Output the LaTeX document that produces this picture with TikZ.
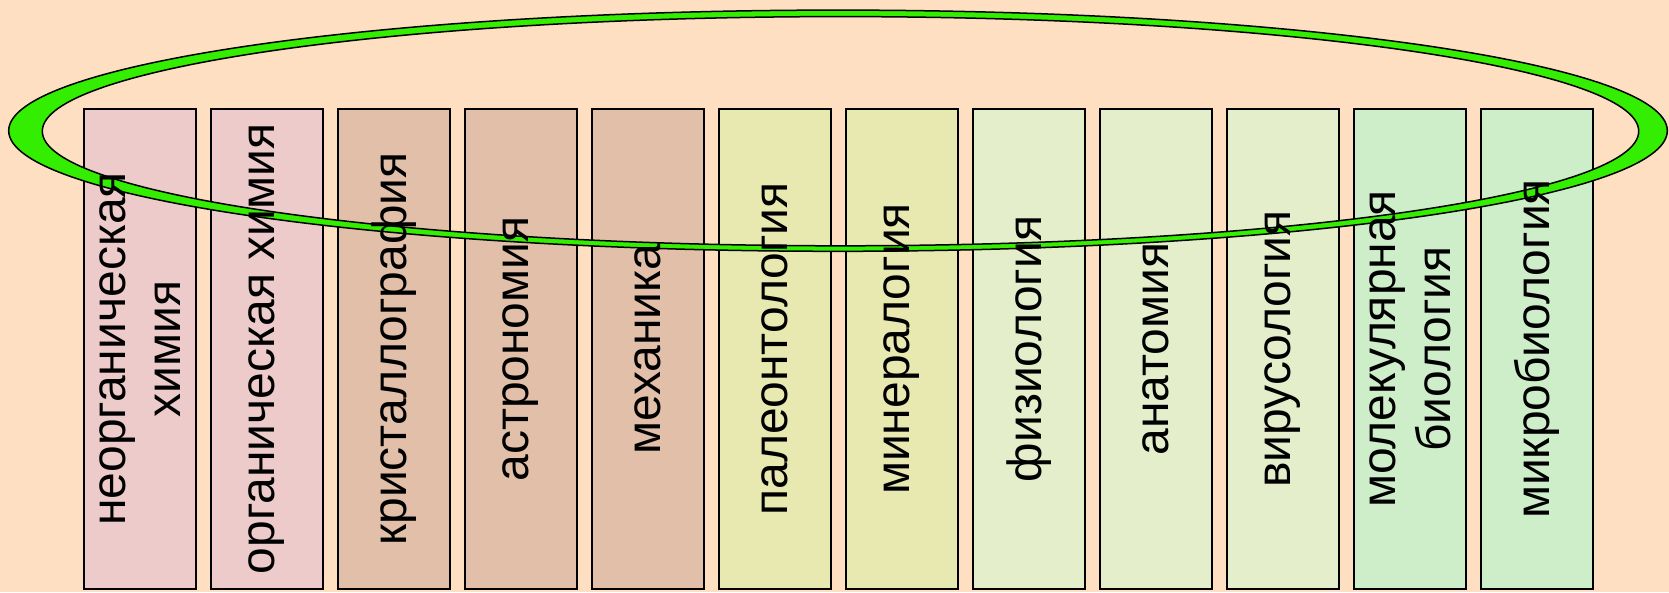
\documentclass[tikz,border=0pt]{standalone}
\usepackage{fontspec}
\setmainfont{Liberation Sans}
\definecolor{bgpeach}{HTML}{FFDFC1}
\definecolor{cpink}{HTML}{EDCBCA}
\definecolor{ctan}{HTML}{E1BFA8}
\definecolor{cyel}{HTML}{E8E8B1}
\definecolor{clgr}{HTML}{E4EECA}
\definecolor{cgrn}{HTML}{CEEECA}
\definecolor{ringgreen}{HTML}{33EE00}
\tikzset{
  boxstyle/.style={draw=black, line width=1.4pt, rectangle, minimum width=112pt, minimum height=480pt, inner sep=0pt},
  labelstyle/.style={rotate=90, align=center, inner sep=0pt, font=\fontsize{48}{55}\selectfont},
}
\begin{document}
\begin{tikzpicture}[x=1pt,y=-1pt]
\fill[bgpeach] (0,0) rectangle (1669,592);
\useasboundingbox (0,0) rectangle (1669,592);
% boxes
\node[boxstyle, fill=cpink] (b1) at (140,349) {};
\node[boxstyle, fill=cpink] (b2) at (267,349) {};
\node[boxstyle, fill=ctan] (b3) at (394,349) {};
\node[boxstyle, fill=ctan] (b4) at (521,349) {};
\node[boxstyle, fill=ctan] (b5) at (648,349) {};
\node[boxstyle, fill=cyel] (b6) at (775,349) {};
\node[boxstyle, fill=cyel] (b7) at (902,349) {};
\node[boxstyle, fill=clgr] (b8) at (1029,349) {};
\node[boxstyle, fill=clgr] (b9) at (1156,349) {};
\node[boxstyle, fill=clgr] (b10) at (1283,349) {};
\node[boxstyle, fill=cgrn] (b11) at (1410,349) {};
\node[boxstyle, fill=cgrn] (b12) at (1537,349) {};
% ring
\fill[ringgreen, even odd rule] (838,130.7) ellipse [x radius=829.3, y radius=120.6] (840.5,131.2) ellipse [x radius=798.2, y radius=114.6];
\draw[black, line width=1.5pt] (838,130.7) ellipse [x radius=829.3, y radius=120.6];
\draw[black, line width=1.5pt] (840.5,131.2) ellipse [x radius=798.2, y radius=114.6];
% labels
\node[labelstyle] (t1) at (b1.center) {неорганическая\\химия};
\node[labelstyle] (t2) at (b2.center) {органическая химия};
\node[labelstyle] (t3) at (b3.center) {кристаллография};
\node[labelstyle] (t4) at (b4.center) {астрономия};
\node[labelstyle] (t5) at (b5.center) {механика};
\node[labelstyle] (t6) at (b6.center) {палеонтология};
\node[labelstyle] (t7) at (b7.center) {минералогия};
\node[labelstyle] (t8) at (b8.center) {физиология};
\node[labelstyle] (t9) at (b9.center) {анатомия};
\node[labelstyle] (t10) at (b10.center) {вирусология};
\node[labelstyle] (t11) at (b11.center) {молекулярная\\биология};
\node[labelstyle] (t12) at (b12.center) {микробиология};
\end{tikzpicture}
\end{document}
